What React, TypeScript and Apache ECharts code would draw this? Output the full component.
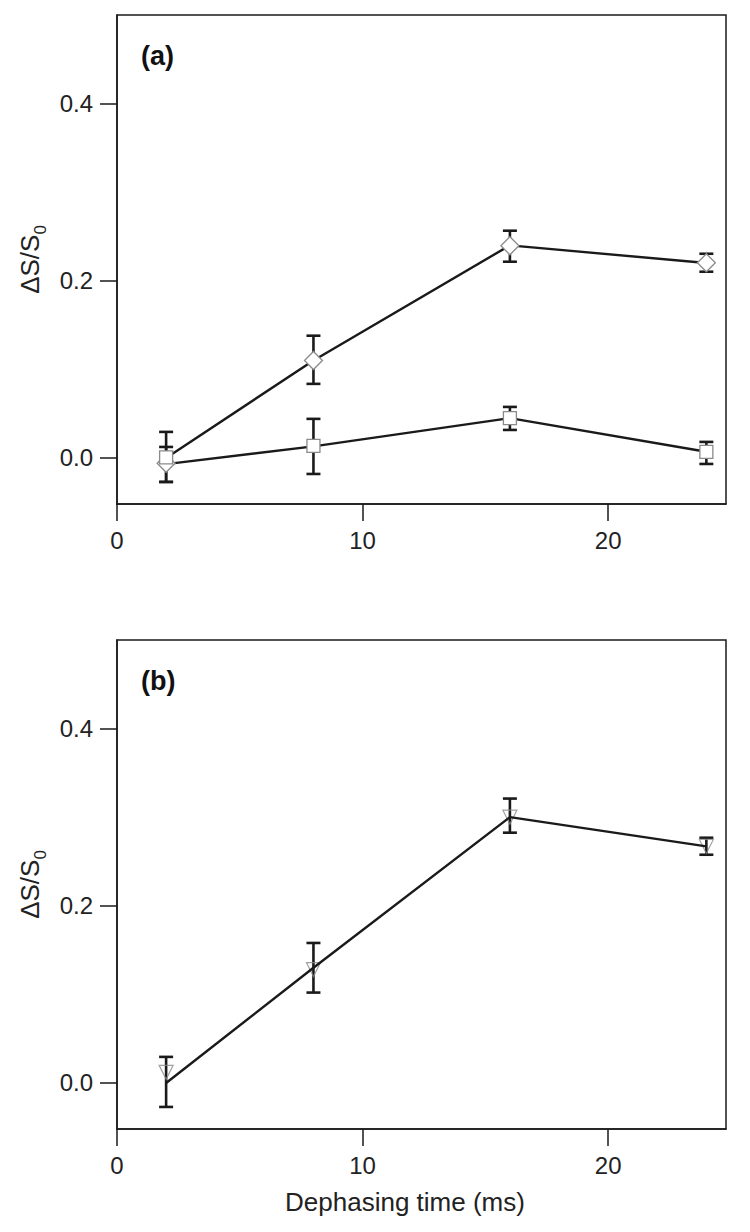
import React, { useEffect, useRef } from "react";
import * as echarts from "echarts";

// ---- data ----
const xTicks = [0, 10, 20];
const yTicks = [0, 0.2, 0.4];
const xTitle = "Dephasing time (ms)";

// panel (a)
const aUpperLine = [[2, 0.0], [8, 0.11], [16, 0.24], [24, 0.22]];
const aLowerLine = [[2, -0.007], [8, 0.013], [16, 0.045], [24, 0.007]];
const aDiamonds = [[2, -0.006], [8, 0.11], [16, 0.2395], [24, 0.2203]];
const aSquares = [[2, 0.0006], [8, 0.0136], [16, 0.045], [24, 0.0068]];
// [x, low, high]
const aErrUpper = [[2, -0.0271, 0.0294], [8, 0.0836, 0.138], [16, 0.2215, 0.2565], [24, 0.2102, 0.2305]];
const aErrLower = [[2, -0.0271, 0.0124], [8, -0.0181, 0.0441], [16, 0.0316, 0.0576], [24, -0.0068, 0.0181]];

// panel (b)
const bLine = [[2, 0.0], [8, 0.13], [16, 0.30], [24, 0.267]];
const bTriangles = [[2, 0.012], [8, 0.128], [16, 0.30], [24, 0.267]];
const bErr = [[2, -0.0271, 0.0294], [8, 0.102, 0.158], [16, 0.2825, 0.321], [24, 0.2576, 0.2768]];

const FONT = "'Liberation Sans', Arial, Helvetica, sans-serif";
const TEXT = "#222";
const LINE = "#1a1a1a";
const MARK = "#8a8a8a";

function errRender(params: any, api: any) {
  const x = api.value(0);
  const lo = api.coord([x, api.value(1)]);
  const hi = api.coord([x, api.value(2)]);
  const w = 7;
  const style = { stroke: LINE, lineWidth: 2.6 };
  return {
    type: "group",
    children: [
      { type: "line", shape: { x1: lo[0], y1: lo[1], x2: hi[0], y2: hi[1] }, style },
      { type: "line", shape: { x1: lo[0] - w, y1: lo[1], x2: lo[0] + w, y2: lo[1] }, style },
      { type: "line", shape: { x1: hi[0] - w, y1: hi[1], x2: hi[0] + w, y2: hi[1] }, style },
    ],
  };
}

function xAxis(gridIndex: number) {
  return {
    type: "value",
    gridIndex,
    min: 0,
    max: 24.8,
    axisLine: { show: true, onZero: false, lineStyle: { color: LINE, width: 1.5 } },
    axisTick: { show: true, inside: false, length: 17, customValues: xTicks, lineStyle: { color: LINE, width: 1.5 } },
    axisLabel: { show: true, margin: 24, customValues: xTicks, fontFamily: FONT, fontSize: 24, color: TEXT },
    splitLine: { show: false },
  };
}

function yAxis(gridIndex: number) {
  return {
    type: "value",
    gridIndex,
    min: -0.052,
    max: 0.5,
    name: "{a|ΔS/S}{b|0}",
    nameLocation: "middle",
    nameGap: 72,
    nameTextStyle: {
      fontFamily: FONT,
      color: TEXT,
      rich: {
        a: { fontFamily: FONT, fontSize: 26, color: TEXT, lineHeight: 32, verticalAlign: "bottom" },
        b: { fontFamily: FONT, fontSize: 17, color: TEXT, lineHeight: 32, verticalAlign: "bottom", padding: [0, 0, -6, 0] },
      },
    },
    axisLine: { show: true, onZero: false, lineStyle: { color: LINE, width: 1.5 } },
    axisTick: { show: true, inside: false, length: 17, customValues: yTicks, lineStyle: { color: LINE, width: 1.5 } },
    axisLabel: {
      show: true,
      margin: 24,
      customValues: yTicks,
      fontFamily: FONT,
      fontSize: 24,
      color: TEXT,
      formatter: (v: number) => v.toFixed(1),
    },
    splitLine: { show: false },
  };
}

export default function App() {
  const ref = useRef<HTMLDivElement>(null);
  useEffect(() => {
    if (!ref.current) return;
    const chart = echarts.init(ref.current, null, { renderer: "svg" });
    const gridBase = { left: 117, right: 24, height: 489, show: true, borderColor: LINE, borderWidth: 1.5, backgroundColor: "#fff" };
    const lineStyle = { color: LINE, width: 2.4 };
    const markStyle = { color: "#ffffff", opacity: 1, borderColor: MARK, borderWidth: 1.3 };
    chart.setOption({
      animation: false,
      backgroundColor: "#fff",
      grid: [
        { ...gridBase, top: 15 },
        { ...gridBase, top: 640 },
      ],
      xAxis: [xAxis(0), xAxis(1)],
      yAxis: [yAxis(0), yAxis(1)],
      graphic: [
        { type: "text", left: 141, top: 42, style: { text: "(a)", font: `bold 27px ${FONT}`, fill: "#111" } },
        { type: "text", left: 141, top: 667, style: { text: "(b)", font: `bold 27px ${FONT}`, fill: "#111" } },
        {
          type: "text", x: 405, y: 1202,
          style: { text: xTitle, font: `26px ${FONT}`, fill: TEXT, align: "center", verticalAlign: "middle" },
        },
      ],
      series: [
        { type: "custom", xAxisIndex: 0, yAxisIndex: 0, renderItem: errRender, data: aErrUpper, z: 1 },
        { type: "custom", xAxisIndex: 0, yAxisIndex: 0, renderItem: errRender, data: aErrLower, z: 1 },
        { type: "line", xAxisIndex: 0, yAxisIndex: 0, data: aUpperLine, symbol: "none", lineStyle, z: 3 },
        { type: "line", xAxisIndex: 0, yAxisIndex: 0, data: aLowerLine, symbol: "none", lineStyle, z: 3 },
        {
          type: "scatter", xAxisIndex: 0, yAxisIndex: 0, data: aDiamonds, symbol: "diamond", symbolSize: 18,
          itemStyle: markStyle, z: 10,
        },
        {
          type: "scatter", xAxisIndex: 0, yAxisIndex: 0, data: aSquares, symbol: "rect", symbolSize: 13,
          itemStyle: markStyle, z: 11,
        },
        { type: "custom", xAxisIndex: 1, yAxisIndex: 1, renderItem: errRender, data: bErr, z: 1 },
        { type: "line", xAxisIndex: 1, yAxisIndex: 1, data: bLine, symbol: "none", lineStyle, z: 4 },
        {
          type: "scatter", xAxisIndex: 1, yAxisIndex: 1, data: bTriangles, symbol: "triangle", symbolRotate: 180, symbolSize: 14,
          itemStyle: { color: "rgba(255,255,255,0)", borderColor: MARK, borderWidth: 1.2 }, z: 3,
        },
      ],
    });
    return () => chart.dispose();
  }, []);
  return <div ref={ref} style={{ position: "absolute", left: 0, top: 0, width: 750, height: 1232 }} />;
}
